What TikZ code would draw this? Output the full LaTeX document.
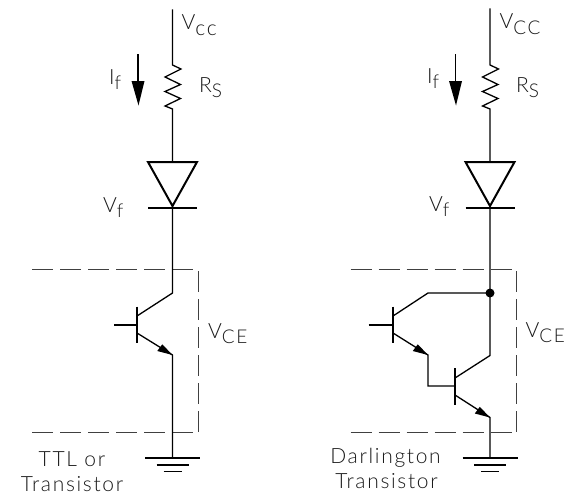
\documentclass[tikz,border=0pt]{standalone}
\usepackage{fontspec}
\setmainfont[LetterSpace=8]{Lato Light}
\newcommand{\sbs}[1]{{\fontsize{19}{20}\selectfont\raisebox{-5.5pt}{#1}}}
\tikzset{
  wire/.style={line width=1.3pt,line join=miter},
  heavy/.style={line width=2pt,line join=miter},
  dashbox/.style={line width=0.7pt,draw=black!75,dash pattern=on 21pt off 7pt},
  lab/.style={inner sep=0pt,anchor=base west,text=black!90,font=\fontsize{21}{24}\selectfont},
  caplab/.style={inner sep=0pt,anchor=base,text=black!90,font=\fontsize{21}{24}\selectfont},
  tip/.style={fill=black,draw=none},
}
\begin{document}
\begin{tikzpicture}[x=1pt,y=-1pt]
\useasboundingbox (0,0) rectangle (569,495);
% common upper part and ground
\foreach \p/\x/\t in {l/172.5/9.5,r/490/8.5}{
  \coordinate (\p top) at (\x,\t);
  \coordinate (\p ra) at (\x,65);
  \coordinate (\p rb) at (\x,109);
  \coordinate (\p dt) at (\x,162);
  \coordinate (\p da) at (\x,206);
  \coordinate (\p dl) at (\x-24.5,162);
  \coordinate (\p dr) at (\x+24.5,162);
  \coordinate (\p bl) at (\x-24.5,207.5);
  \coordinate (\p br) at (\x+24.5,207.5);
  \coordinate (\p gnd) at (\x,458);
  \draw[wire] (\p top) -- (\p ra)
     -- ++(8.5,4) -- ++(-16,8) -- ++(15.5,7.5) -- ++(-15.5,7) -- ++(15.5,7) -- ++(-15.5,7.5) -- (\p rb) -- (\p dt);
  \draw[heavy] (\p dl) -- (\p dr) -- (\p da) -- cycle;
  \draw[heavy] (\p bl) -- (\p br);
  \draw[wire] (\p gnd) ++(-27.5,0) -- ++(55,0);
  \draw[line width=1.6pt] (\p gnd) ++(-16,7) -- ++(32,0);
  \draw[line width=1.6pt] (\p gnd) ++(-9,13.5) -- ++(18,0);
  \coordinate (\p ia) at (\x-34.5,54);
  \coordinate (\p ib) at (\x-34.5,82);
  \draw[wire] (\p ia) -- (\p ib);
  \fill[tip] (\x-41,81) -- (\x-28,81) -- (\x-34,105.5) -- cycle;
}
% dashed boxes
\coordinate (dla) at (32,269.5); \coordinate (dlb) at (198.5,269.5);
\coordinate (dlc) at (198.5,432.5); \coordinate (dld) at (32,432.5);
\draw[dashbox] (dla) -- (dlb);
\draw[dashbox] (dld) -- (dlc);
\draw[dashbox] (198.5,271) -- (dlc);
\coordinate (dra) at (350.5,269.5); \coordinate (drb) at (516.7,269.5);
\coordinate (drc) at (516.7,432.5); \coordinate (drd) at (350.5,432.5);
\draw[dashbox] (dra) -- (drb);
\draw[dashbox] (drd) -- (drc);
\draw[dashbox] (516.7,271) -- (drc);
% left transistor
\coordinate (lc) at (172.5,293); \coordinate (le) at (172.5,355);
\coordinate (lb0) at (114,325); \coordinate (lb) at (137,325);
\coordinate (lbt) at (137,306.5); \coordinate (lbb) at (137,342.5);
\coordinate (lcb) at (137,316); \coordinate (leb) at (137,333);
\draw[wire] (lda) -- (lc) -- (lcb);
\draw[wire] (lb0) -- (lb);
\draw[wire] (lbt) -- (lbb);
\draw[wire] (leb) -- (le) -- (lgnd);
\fill[tip] (le) -- +(-10.2,-10.7) -- +(-15.2,-4) -- cycle;
% right transistors
\coordinate (rj) at (490,293); \coordinate (rc2) at (490,355.5);
\coordinate (q1c) at (428,293); \coordinate (q1e) at (428,355);
\coordinate (q1b0) at (368.5,325); \coordinate (q1b) at (393,325);
\coordinate (q1bt) at (393,306.5); \coordinate (q1bb) at (393,342.5);
\coordinate (q1cb) at (393,316); \coordinate (q1eb) at (393,333);
\coordinate (q2b0) at (428,386); \coordinate (q2b) at (455,386);
\coordinate (q2bt) at (455,368); \coordinate (q2bb) at (455,405);
\coordinate (q2cb) at (455,378); \coordinate (q2eb) at (455,395);
\coordinate (q2e) at (490,417.5);
\draw[wire] (rda) -- (rc2) -- (q2cb);
\draw[wire] (rj) -- (q1c) -- (q1cb);
\fill (rj) circle (4.5);
\draw[wire] (q1b0) -- (q1b);
\draw[wire] (q1bt) -- (q1bb);
\draw[wire] (q1eb) -- (q1e) -- (q2b0) -- (q2b);
\fill[tip] (q1e) -- +(-10.2,-10.7) -- +(-15.2,-4) -- cycle;
\draw[wire] (q2bt) -- (q2bb);
\draw[wire] (q2eb) -- (q2e) -- (rgnd);
\fill[tip] (q2e) -- +(-10.2,-10.7) -- +(-15.2,-4) -- cycle;
% labels left
\node[lab] (vccl) at (181.5,30) {V\sbs{\fontsize{21}{20}\selectfont cc}};
\node[lab] (ifl) at (109,84) {I\sbs{f}};
\node[lab] (rsl) at (199,92) {R\sbs{S}};
\node[lab] (vfl) at (103,212) {V\sbs{f}};
\node[lab] (vcel) at (208,338) {V\sbs{CE}};
\node[caplab] (ttl1) at (72,466) {TTL or};
\node[caplab] (ttl2) at (72,491) {Transistor};
% labels right
\node[lab] (vccr) at (499.5,29) {V\sbs{CC}};
\node[lab] (ifr) at (427,83) {I\sbs{f}};
\node[lab] (rsr) at (516,92) {R\sbs{S}};
\node[lab] (vfr) at (429,211) {V\sbs{f}};
\node[lab] (vcer) at (525.5,337) {V\sbs{CE}};
\node[caplab] (dar1) at (385.5,463) {Darlington};
\node[caplab] (dar2) at (386.5,488) {Transistor};
\end{tikzpicture}
\end{document}
